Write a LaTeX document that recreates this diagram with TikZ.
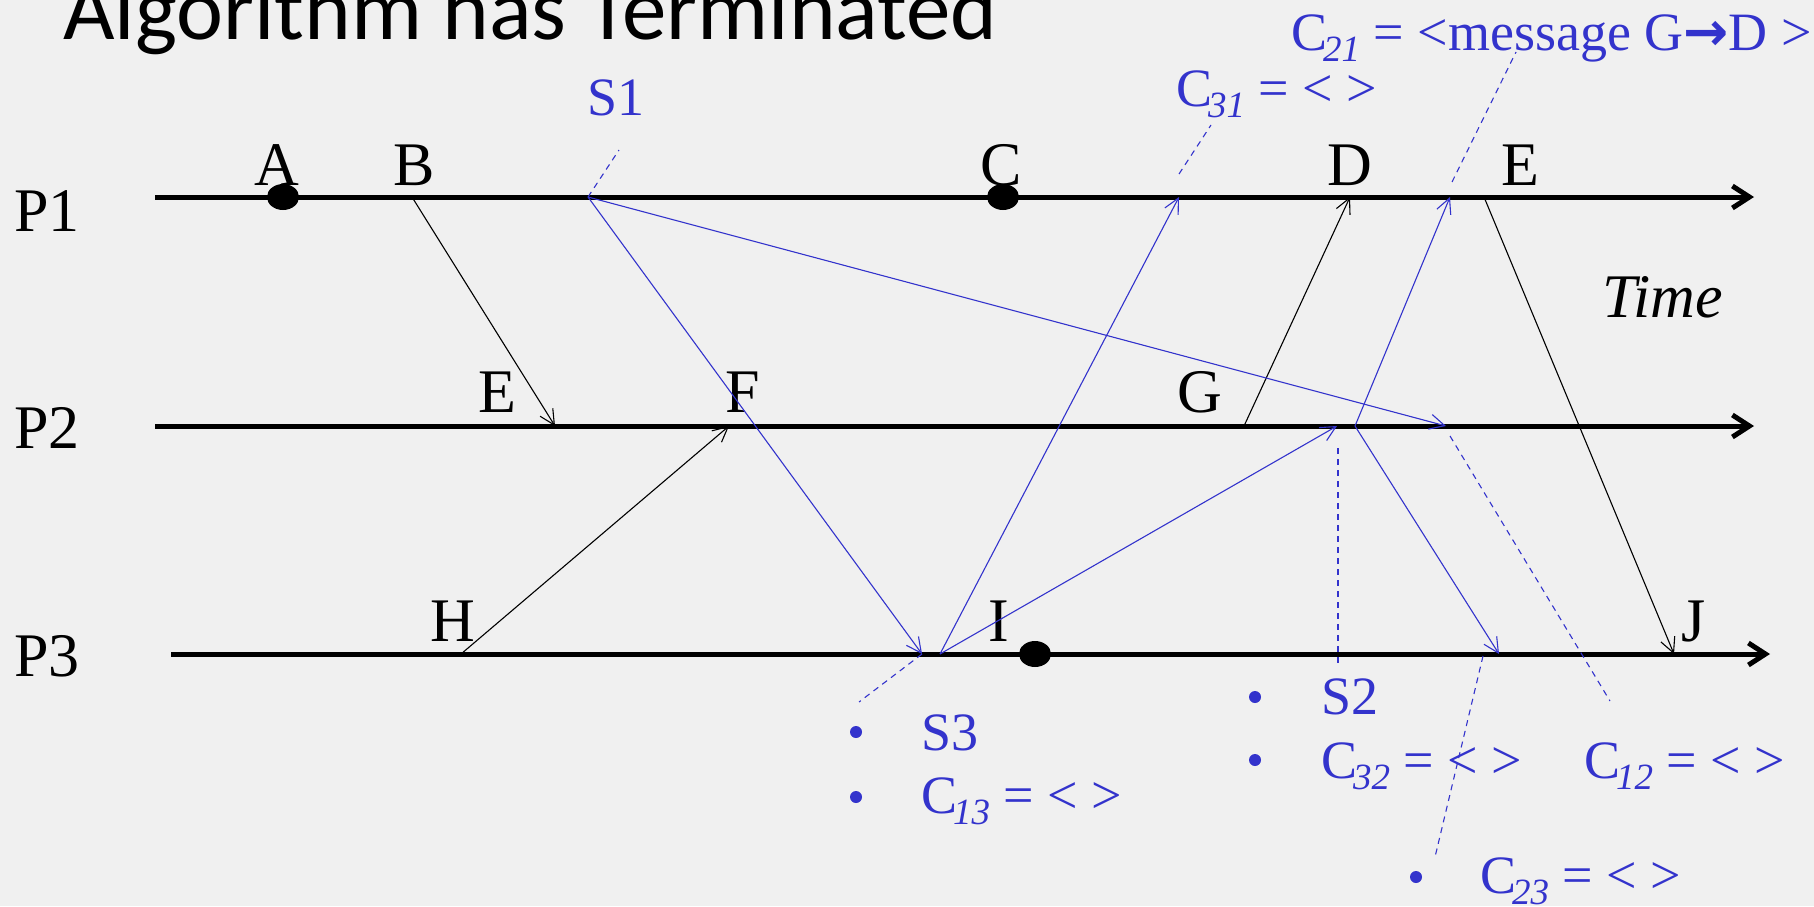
\documentclass[tikz,border=0pt]{standalone}
\usepackage{fontspec}
\setmainfont{Liberation Serif}
\newfontfamily\titlefont{Carlito}
\newfontfamily\arrowfont{DejaVu Sans}
\usetikzlibrary{arrows.meta}
\definecolor{bg}{HTML}{F0F0F0}
\definecolor{sblue}{HTML}{3333CC}
\newcommand\Csub[1]{C\kern-4pt\raisebox{-11pt}{\fontsize{37}{37}\selectfont\itshape #1}}
\tikzset{
  procline/.style={line width=5pt,-{Straight Barb[length=17pt,width=22pt,line cap=butt]}},
  msg/.style={line width=1.1pt,-{Straight Barb[length=15pt,width=15pt]}},
  bmsg/.style={msg,draw=sblue},
  lead/.style={draw=sblue,line width=1.1pt,dash pattern=on 6pt off 5pt},
  evlabel/.style={anchor=base,inner sep=0pt,font=\fontsize{62}{62}\selectfont},
  plabel/.style={anchor=base west,inner sep=0pt,font=\fontsize{62}{62}\selectfont},
  blabel/.style={anchor=base west,inner sep=0pt,text=sblue,font=\fontsize{54}{54}\selectfont},
  evdot/.style={fill=black,ellipse sep},
  bul/.style={fill=sblue,circle,inner sep=0pt,minimum size=12pt},
}
\begin{document}
\begin{tikzpicture}[x=1pt,y=-1pt]
\fill[bg] (0,0) rectangle (1814,906);
\useasboundingbox (0,0) rectangle (1814,906);
% title
\node[anchor=base west,inner sep=0pt,font=\titlefont\fontsize{89}{89}\selectfont] (title) at (63,39) {Algorithm has Terminated};
% process lines
\coordinate (p1s) at (155,197); \coordinate (p1e) at (1754,197);
\coordinate (p2s) at (155,426); \coordinate (p2e) at (1754,426);
\coordinate (p3s) at (171,654); \coordinate (p3e) at (1770,654);
\draw[procline] (p1s) -- (p1e);
\draw[procline] (p2s) -- (p2e);
\draw[procline] (p3s) -- (p3e);
\node[plabel] (P1) at (14,231) {P1};
\node[plabel] (P2) at (14,448) {P2};
\node[plabel] (P3) at (14,676) {P3};
% event points
\coordinate (b) at (412,197);
\coordinate (e2) at (555,426);
\coordinate (h) at (461,654);
\coordinate (f) at (729,426);
\coordinate (g) at (1244,426);
\coordinate (d) at (1350,197);
\coordinate (e1) at (1484,197);
\coordinate (j) at (1674,654);
\coordinate (s1) at (588,197);
\coordinate (s3in) at (922,654);
\coordinate (c12in) at (1446,426);
\coordinate (s3out) at (940,654);
\coordinate (c31in) at (1179,197);
\coordinate (s2in) at (1337,426);
\coordinate (s2out) at (1355,426);
\coordinate (c21in) at (1450,197);
\coordinate (c23in) at (1499,654);
% dots
\fill (283,197) ellipse [x radius=16, y radius=13];
\fill (1003,197) ellipse [x radius=16, y radius=13];
\fill (1035,654) ellipse [x radius=16, y radius=13];
% event labels
\node[evlabel] (lA) at (277,185) {A};
\node[evlabel] (lB) at (414,185) {B};
\node[evlabel] (lC) at (1001,185) {C};
\node[evlabel] (lD) at (1350,185) {D};
\node[evlabel] (lE1) at (1520,185) {E};
\node[evlabel] (lE2) at (497,412) {E};
\node[evlabel] (lF) at (743,412) {F};
\node[evlabel] (lG) at (1200,412) {G};
\node[evlabel] (lH) at (453,641) {H};
\node[evlabel] (lI) at (999,641) {I};
\node[evlabel] (lJ) at (1694,641) {J};
\node[plabel,font=\fontsize{62}{62}\selectfont\itshape] (time) at (1602,317) {Time};
% black messages
\draw[msg] (b) -- (e2);
\draw[msg] (h) -- (f);
\draw[msg] (g) -- (d);
\draw[msg] (e1) -- (j);
% blue messages
\draw[bmsg] (s1) -- (s3in);
\draw[bmsg] (s1) -- (c12in);
\draw[bmsg] (s3out) -- (c31in);
\draw[bmsg] (s3out) -- (s2in);
\draw[bmsg] (s2out) -- (c21in);
\draw[bmsg] (s2out) -- (c23in);
% leader lines
\coordinate (s1t) at (619,150);
\coordinate (c31a) at (1179,174); \coordinate (c31b) at (1211,125);
\coordinate (c21a) at (1452,182); \coordinate (c21b) at (1516,52);
\coordinate (s2a) at (1338,448); \coordinate (s2b) at (1338,665);
\coordinate (c12a) at (1450,436); \coordinate (c12b) at (1610,701);
\coordinate (c23a) at (1483,656); \coordinate (c23b) at (1435,857);
\coordinate (s3t) at (859,702);
\draw[lead] (s1) -- (s1t);
\draw[lead] (c31a) -- (c31b);
\draw[lead] (c21a) -- (c21b);
\draw[lead] (s2a) -- (s2b);
\draw[lead] (c12a) -- (c12b);
\draw[lead] (c23a) -- (c23b);
\draw[lead] (s3in) -- (s3t);
% blue labels
\node[blabel,anchor=base] (lS1) at (616,115) {S1};
\node[blabel] (lC31) at (1176,106) {\Csub{31} = < >};
\node[blabel] (lC21) at (1291,50) {\Csub{21} = <message G{\arrowfont\bfseries →}D >};
\node[bul] (b1) at (856,732) {};
\node[blabel] (lS3) at (921,750) {S3};
\node[bul] (b2) at (856,797) {};
\node[blabel] (lC13) at (921,813) {\Csub{13} = < >};
\node[bul] (b3) at (1255,697) {};
\node[blabel] (lS2) at (1321,714) {S2};
\node[bul] (b4) at (1255,760) {};
\node[blabel] (lC32) at (1321,778) {\Csub{32} = < >};
\node[blabel] (lC12) at (1584,778) {\Csub{12} = < >};
\node[bul] (b5) at (1416,877) {};
\node[blabel] (lC23) at (1480,893) {\Csub{23} = < >};
\end{tikzpicture}
\end{document}
